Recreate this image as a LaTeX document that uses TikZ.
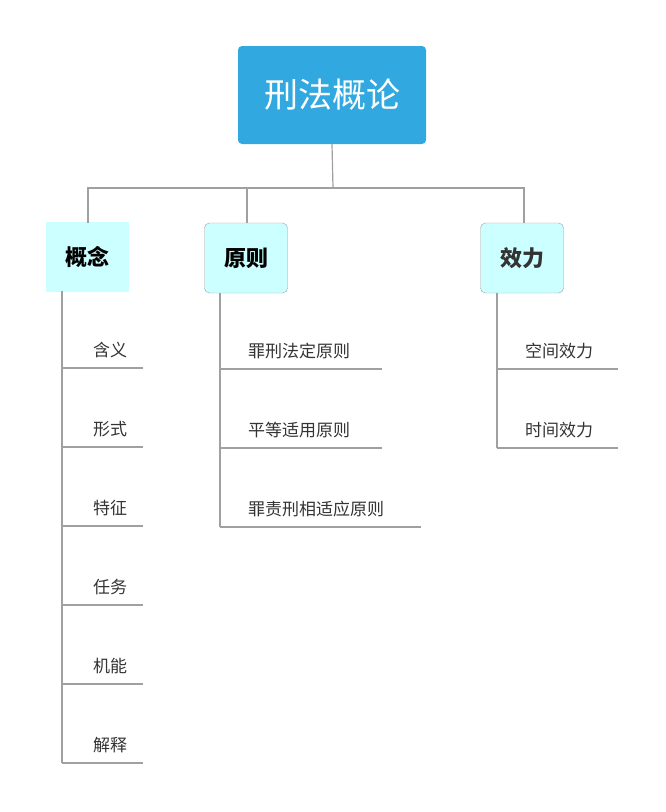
\documentclass[tikz,border=0pt]{standalone}
\usepackage{fontspec}
\setmainfont{Noto Sans CJK SC}
\usetikzlibrary{positioning}
\definecolor{rootblue}{HTML}{31A9E0}
\definecolor{lightcyan}{HTML}{CCFFFF}
\definecolor{linegray}{HTML}{A0A0A0}
\definecolor{textgray}{HTML}{333333}
\begin{document}
\begin{tikzpicture}[x=1pt,y=-1pt]
    \tikzset{
        root/.style={fill=rootblue, rounded corners=4pt, minimum width=188pt, minimum height=98pt, text=white, font=\fontsize{34}{40}\selectfont},
        topic/.style={fill=lightcyan, minimum width=83pt, minimum height=70pt, font=\bfseries\fontsize{22}{26}\selectfont},
        framed/.style={topic, draw=linegray, rounded corners=5pt},
        leaf/.style={text=textgray, font=\fontsize{17}{20}\selectfont, inner sep=0pt},
        link/.style={draw=linegray, line width=1.2pt}
    }
    \useasboundingbox (0,0) rectangle (665,812);

    \node[root] (r) at (332,95) {刑法概论};
    \node[topic] (a) at (87,257) {概念};
    \node[framed] (b) at (246,258) {原则};
    \node[framed, text=textgray] (c) at (522,258) {效力};

    \coordinate (j) at (333,188);
    \draw[link] (r.south) -- (j);
    \foreach \n/\x in {a/88,b/247,c/524}{
        \draw[link] (j) -| (\x,223);
    }

    % leaves of a
    \draw[link] (62,291) -- (62,763);
    \foreach \t/\y [count=\i] in {含义/368,形式/447,特征/526,任务/605,机能/684,解释/763}{
        \node[leaf] (a\i) at (110,\y-18) {\t};
        \draw[link] (62,\y) -- (143,\y);
    }

    % leaves of b
    \draw[link] (220,293) -- (220,527);
    \foreach \t/\y/\e [count=\i] in {罪刑法定原则/369/382,平等适用原则/448/382,罪责刑相适应原则/527/421}{
        \node[leaf, anchor=west] (b\i) at (248,\y-18) {\t};
        \draw[link] (220,\y) -- (\e,\y);
    }

    % leaves of c
    \draw[link] (497,293) -- (497,448);
    \foreach \t/\y [count=\i] in {空间效力/369,时间效力/448}{
        \node[leaf, anchor=west] (c\i) at (525,\y-18) {\t};
        \draw[link] (497,\y) -- (618,\y);
    }
\end{tikzpicture}
\end{document}
